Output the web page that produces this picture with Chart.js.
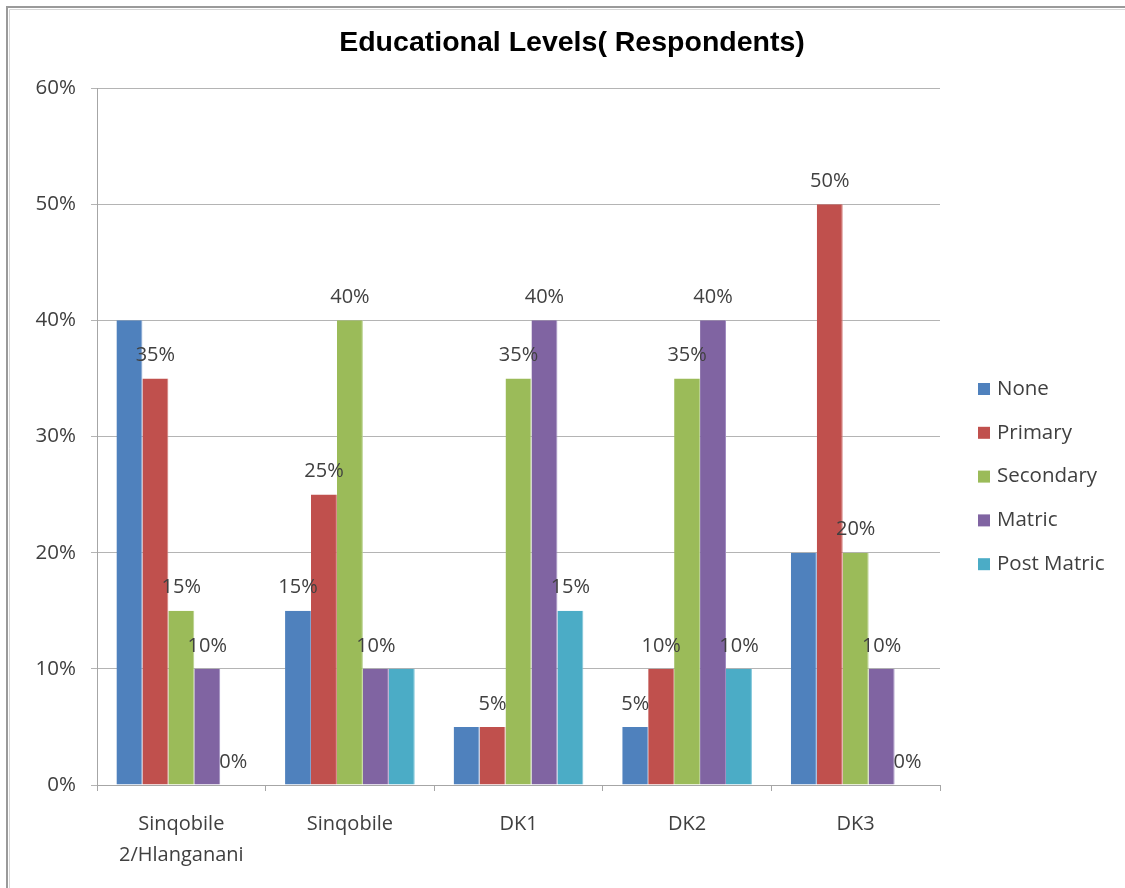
<!DOCTYPE html>
<html>
<head>
<meta charset="utf-8">
<title>Educational Levels( Respondents)</title>
<script src="https://cdn.jsdelivr.net/npm/chart.js@4/dist/chart.umd.min.js"></script>
<style>
  html, body { margin: 0; padding: 0; background: #ffffff; }
  #wrap { width: 1125px; height: 888px; position: relative; }
  canvas { display: block; }
</style>
</head>
<body>
<div id="wrap"><canvas id="chart" width="1125" height="888"></canvas></div>
<script>
// Settlements surveyed
const categories = [['Sinqobile', '2/Hlanganani'], 'Sinqobile', 'DK1', 'DK2', 'DK3'];

// Share of respondents (%) per education level
const none       = [40, 15, 5, 5, 20];
const primary    = [35, 25, 5, 10, 50];
const secondary  = [15, 40, 35, 35, 20];
const matric     = [10, 10, 40, 40, 10];
const postMatric = [0, 10, 15, 10, 0];

// Which value labels are printed (overlapping ones are left out)
const noneLabels       = [false, true, false, true, false];
const primaryLabels    = [true, true, true, true, true];
const secondaryLabels  = [true, true, true, true, true];
const matricLabels     = [true, true, true, true, true];
const postMatricLabels = [true, false, true, true, true];

// Value axis ticks
const yTicks = [0, 10, 20, 30, 40, 50, 60];

const chartTitle = 'Educational Levels( Respondents)';
const seriesNames = ['None', 'Primary', 'Secondary', 'Matric', 'Post Matric'];
const seriesData = [none, primary, secondary, matric, postMatric];
const seriesLabels = [noneLabels, primaryLabels, secondaryLabels, matricLabels, postMatricLabels];
const fills = ['#4F81BD', '#C0504D', '#9BBB59', '#8064A2', '#4BACC6'];
const edges = ['#7EA1D0', '#D47C7A', '#B7D08A', '#A08CC0', '#7FC6D9'];

const TEXT = '#404040';
const FONT = '"Open Sans", "Liberation Sans", sans-serif';

// Chart frame (top and left edges)
const framePlugin = {
  id: 'frame',
  beforeDraw(chart) {
    const c = chart.ctx;
    c.save();
    c.fillStyle = '#ffffff';
    c.fillRect(0, 0, chart.width, chart.height);
    c.strokeStyle = '#9a9a9a';
    c.lineWidth = 2;
    c.beginPath();
    c.moveTo(7, chart.height);
    c.lineTo(7, 7);
    c.lineTo(chart.width, 7);
    c.stroke();
    c.strokeStyle = '#d6d6d6';
    c.lineWidth = 1;
    c.beginPath();
    c.moveTo(9.5, chart.height);
    c.lineTo(9.5, 9.5);
    c.lineTo(chart.width, 9.5);
    c.stroke();
    c.restore();
  }
};

// Title centred across the whole chart
const titlePlugin = {
  id: 'centredTitle',
  afterDraw(chart) {
    const c = chart.ctx;
    c.save();
    c.font = 'bold 28.5px "Liberation Sans", Arial, sans-serif';
    c.fillStyle = '#000000';
    c.textAlign = 'center';
    c.textBaseline = 'middle';
    c.fillText(chartTitle, 572, 43);
    c.restore();
  }
};

// Value labels above the bars
const valueLabelPlugin = {
  id: 'valueLabels',
  afterDatasetsDraw(chart) {
    const c = chart.ctx;
    c.save();
    c.font = '20px ' + FONT;
    c.fillStyle = TEXT;
    c.textAlign = 'center';
    c.textBaseline = 'middle';
    chart.data.datasets.forEach((ds, di) => {
      const meta = chart.getDatasetMeta(di);
      meta.data.forEach((bar, i) => {
        if (!seriesLabels[di][i]) return;
        c.fillText(ds.data[i] + '%', bar.x, bar.y - 23);
      });
    });
    c.restore();
  }
};

// Legend at the right of the plot
const sideLegendPlugin = {
  id: 'sideLegend',
  afterDraw(chart) {
    const c = chart.ctx;
    c.save();
    c.font = '20.5px ' + FONT;
    c.textAlign = 'left';
    c.textBaseline = 'middle';
    const x = 978, y0 = 389, step = 43.8, box = 12;
    chart.data.datasets.forEach((ds, di) => {
      const y = y0 + di * step;
      c.fillStyle = ds.backgroundColor;
      c.fillRect(x, y - box / 2, box, box);
      c.fillStyle = TEXT;
      c.fillText(ds.label, x + 19, y);
    });
    c.restore();
  }
};

new Chart(document.getElementById('chart'), {
  type: 'bar',
  data: {
    labels: categories,
    datasets: seriesNames.map((name, i) => ({
      label: name,
      data: seriesData[i],
      backgroundColor: fills[i],
      borderColor: edges[i],
      borderWidth: { left: 0, top: 0, bottom: 0, right: 1 },
      categoryPercentage: 5 / 6.5,
      barPercentage: 1
    }))
  },
  options: {
    responsive: false,
    animation: false,
    devicePixelRatio: 1,
    layout: { padding: { left: 0, right: 185, top: 88, bottom: 0 } },
    plugins: {
      legend: { display: false },
      tooltip: { enabled: false },
      title: { display: false }
    },
    scales: {
      x: {
        grid: {
          display: true,
          drawOnChartArea: false,
          offset: true,
          tickLength: 6,
          color: '#a6a6a6'
        },
        border: { color: '#a6a6a6', width: 1 },
        ticks: {
          color: TEXT,
          font: { family: FONT, size: 20, lineHeight: 1.55 },
          padding: 18,
          maxRotation: 0,
          autoSkip: false
        },
        afterFit(scale) { scale.height = 103; }
      },
      y: {
        min: 0,
        max: 60,
        afterBuildTicks(scale) { scale.ticks = yTicks.map(v => ({ value: v })); },
        grid: { color: '#b4b4b4', tickLength: 6 },
        border: { color: '#a6a6a6', width: 1 },
        ticks: {
          color: TEXT,
          font: { family: FONT, size: 20.5 },
          padding: 15,
          callback: v => v + '%'
        },
        afterFit(scale) { scale.width = 97; }
      }
    }
  },
  plugins: [framePlugin, titlePlugin, valueLabelPlugin, sideLegendPlugin]
});
</script>
</body>
</html>
